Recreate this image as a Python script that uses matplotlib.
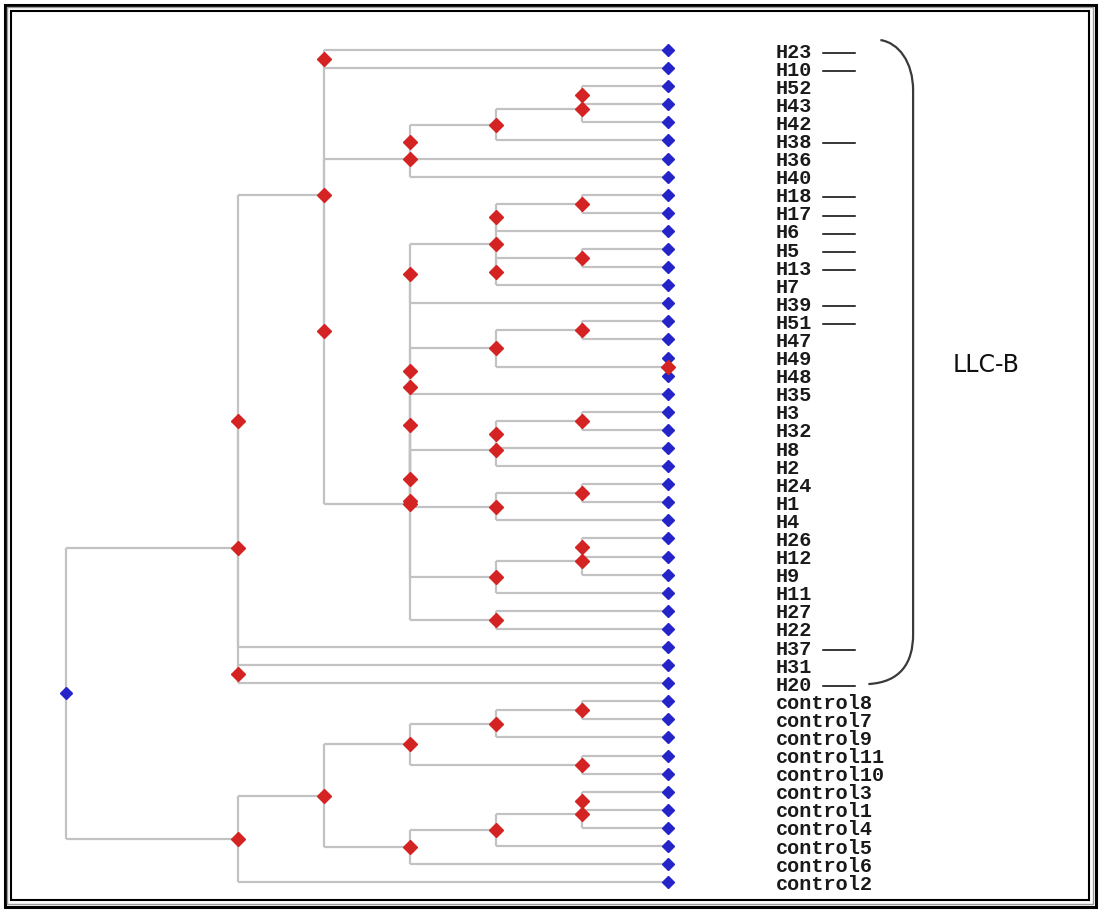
import matplotlib

matplotlib.use("Agg")

import matplotlib.pyplot as plt
from matplotlib.patches import PathPatch, Rectangle
from matplotlib.path import Path

# leaf order top to bottom
LEAF_LABELS = [
    "H23", "H10", "H52", "H43", "H42", "H38", "H36", "H40", "H18", "H17",
    "H6", "H5", "H13", "H7", "H39", "H51", "H47", "H49", "H48", "H35",
    "H3", "H32", "H8", "H2", "H24", "H1", "H4", "H26", "H12", "H9",
    "H11", "H27", "H22", "H37", "H31", "H20",
    "control8", "control7", "control9", "control11", "control10",
    "control3", "control1", "control4", "control5", "control6", "control2",
]
MARKED = ["H23", "H10", "H38", "H18", "H17", "H6", "H5", "H13",
          "H39", "H51", "H37", "H20"]
GROUP_LABEL = "LLC-B"
GROUP_SPAN = ("H23", "H20")

TIP_LEVEL = 7

# internal node = (level, [children]); leaves are labels
H_TREE = (2, [
    (2, [
        (3, [
            (3, ["H23", "H10"]),
            (3, [
                (4, [(4, [(5, [(6, [(6, ["H52", "H43"]), "H42"]), "H38"]), "H36"]), "H40"]),
                (4, [
                    (4, [
                        (4, [
                            (5, [(5, [(6, ["H18", "H17"]), "H6"]), (5, [(6, ["H5", "H13"]), "H7"])]),
                            "H39",
                        ]),
                        (4, [
                            (4, [
                                (4, [(5, [(6, ["H51", "H47"]), (7, ["H49", "H48"])]), "H35"]),
                                (4, [
                                    (5, [(5, [(6, ["H3", "H32"]), "H8"]), "H2"]),
                                    (5, [(6, ["H24", "H1"]), "H4"]),
                                ]),
                            ]),
                            (5, [(6, [(6, ["H26", "H12"]), "H9"]), "H11"]),
                        ]),
                    ]),
                    (5, ["H27", "H22"]),
                ]),
            ]),
        ]),
        "H37",
    ]),
    (2, ["H31", "H20"]),
])

CONTROL_TREE = (2, [
    (3, [
        (4, [(5, [(6, ["control8", "control7"]), "control9"]), (6, ["control11", "control10"])]),
        (4, [(5, [(6, [(6, ["control3", "control1"]), "control4"]), "control5"]), "control6"]),
    ]),
    "control2",
])

TREE = (0, [H_TREE, CONTROL_TREE])

LINE_GREY = "#c2c2c2"
RED = "#d42323"
BLUE = "#2424c8"


def layout(node, segments, nodes):
    if isinstance(node, str):
        return LEAF_LABELS.index(node), TIP_LEVEL
    level, children = node
    ys = []
    for child in children:
        cy, cx = layout(child, segments, nodes)
        segments.append(([level, cx], [cy, cy]))
        ys.append(cy)
    segments.append(([level, level], [min(ys), max(ys)]))
    y = sum(ys) / len(ys)
    nodes.append((level, y))
    return y, level


def main():
    fig = plt.figure(figsize=(11, 9.11), dpi=100)
    fig.patch.set_facecolor("white")

    # frame in pixel units
    frame = fig.add_axes([0, 0, 1, 1])
    frame.set_xlim(0, 1100)
    frame.set_ylim(911, 0)
    frame.set_axis_off()
    frame.add_patch(Rectangle((4.5, 4.5), 1091, 902, fill=False, edgecolor="black", linewidth=2.2))
    frame.add_patch(Rectangle((7.2, 7.2), 1085.6, 896.6, fill=False, edgecolor="#9a9a9a", linewidth=1.0))
    frame.add_patch(Rectangle((10.8, 10.8), 1078.4, 889.4, fill=False, edgecolor="black", linewidth=1.5))

    ax = fig.add_axes([0, 0, 1, 1])
    ax.set_axis_off()
    ax.set_xlim(-66 / 86, (1100 - 66) / 86)
    ax.set_ylim((911 - 50) / 18.09, -50 / 18.09)

    segments, nodes = [], []
    layout(TREE, segments, nodes)
    for xs, ys in segments:
        ax.plot(xs, ys, color=LINE_GREY, linewidth=1.6, solid_capstyle="butt", zorder=1)

    ax.plot([TIP_LEVEL] * len(LEAF_LABELS), range(len(LEAF_LABELS)), linestyle="none",
            marker="D", markersize=6, color=BLUE, zorder=3)
    root = nodes[-1]
    inner = nodes[:-1]
    ax.plot([n[0] for n in inner], [n[1] for n in inner], linestyle="none",
            marker="D", markersize=6.8, color=RED, zorder=4)
    ax.plot([root[0]], [root[1]], linestyle="none", marker="D", markersize=6, color=BLUE, zorder=4)

    label_x = TIP_LEVEL + 1.256
    for i, name in enumerate(LEAF_LABELS):
        ax.text(label_x, i + 0.42, name, ha="left", va="baseline",
                fontsize=14.5, family="Liberation Mono", weight="bold", color="#1a1a1a")
        if name in MARKED:
            ax.plot([TIP_LEVEL + 1.80, TIP_LEVEL + 2.17], [i + 0.15, i + 0.15],
                    color="black", linewidth=1.1)

    # bracket around the LLC-B group
    top = LEAF_LABELS.index(GROUP_SPAN[0]) - 0.55
    bot = LEAF_LABELS.index(GROUP_SPAN[1])
    xr = TIP_LEVEL + 2.85
    verts = [
        (TIP_LEVEL + 2.47, top),
        (TIP_LEVEL + 2.68, top + 0.15),
        (xr, top + 1.2),
        (xr, top + 2.8),
        (xr, bot - 2.7),
        (xr, bot - 1.1),
        (TIP_LEVEL + 2.70, bot - 0.05),
        (TIP_LEVEL + 2.33, bot + 0.05),
    ]
    codes = [Path.MOVETO, Path.CURVE4, Path.CURVE4, Path.CURVE4,
             Path.LINETO, Path.CURVE4, Path.CURVE4, Path.CURVE4]
    ax.add_patch(PathPatch(Path(verts, codes), fill=False, edgecolor="#3a3a3a", linewidth=1.6))

    ax.text(TIP_LEVEL + 3.31, (top + bot) / 2 + 0.2, GROUP_LABEL, ha="left", va="center",
            fontsize=17, family="DejaVu Sans", color="#111111")

    fig.savefig("out.png", dpi=100)
    plt.close(fig)


if __name__ == "__main__":
    main()
